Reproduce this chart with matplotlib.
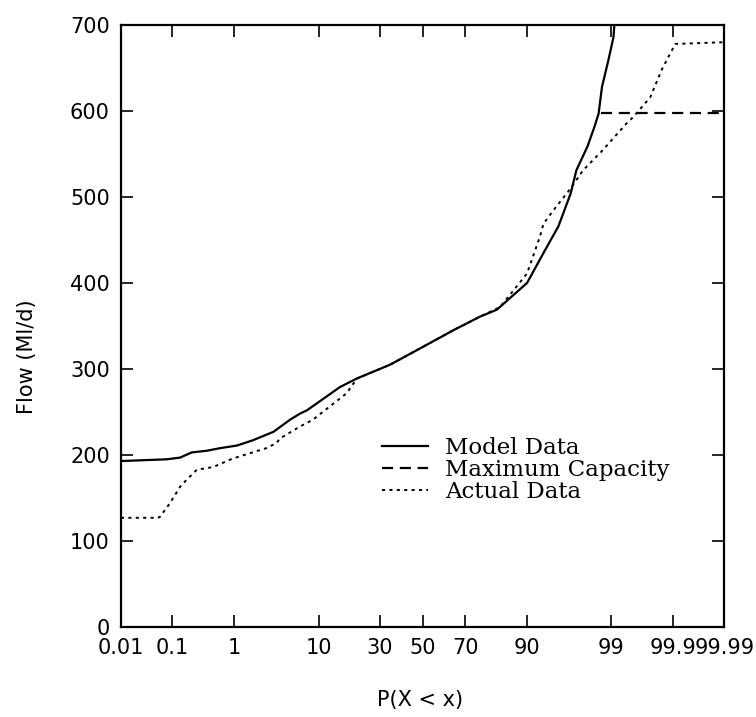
import numpy as np
import matplotlib
matplotlib.use('Agg')
import matplotlib.pyplot as plt
from statistics import NormalDist

# flow duration data, exceedance probability in percent
model_p = [0.01, 0.08, 0.14, 0.22, 0.39, 0.63, 1.1, 1.8, 3.3, 5.1, 6.5, 7.7,
           15.4, 20.9, 34.4, 48.8, 64.7, 76.1, 82.0, 90.1, 93.2, 95.3, 96.6,
           97.1, 97.9, 98.3, 98.5, 98.65, 98.9, 99.07, 99.1]
model_q = [193, 195, 197, 203, 205, 208, 211, 217, 227, 241, 248, 252,
           279, 289, 305, 324, 345, 361, 369, 400, 435, 466, 504,
           531, 559, 582, 597, 628, 659, 686, 702]

actual_p = [0.01, 0.055, 0.06, 0.092, 0.139, 0.18, 0.27, 0.49, 0.97, 2.7, 3.6,
            3.9, 6.5, 8.8, 17.5, 20.9, 34.4, 48.8, 64.7, 76.1, 83.0, 90.1,
            92.6, 93.2, 94.7, 96.6, 97.6, 98.7, 99.41, 99.53, 99.75, 99.84,
            99.908, 99.99]
actual_q = [127, 127, 128, 144, 163, 171, 183, 186, 196, 208, 214,
            219, 233, 241, 272, 289, 305, 324, 345, 361, 372, 411,
            454, 469, 485, 510, 531, 555, 586, 593, 616, 648,
            678, 680]

cap_p = [98.6, 99.99]
cap_q = [598, 598]

tick_p = [0.01, 0.1, 1, 10, 30, 50, 70, 90, 99, 99.9, 99.99]
tick_labels = ['0.01', '0.1', '1', '10', '30', '50', '70', '90', '99', '99.9', '99.99']

nd = NormalDist()


def probit(p):
    return np.array([nd.inv_cdf(v / 100.0) for v in p])


fig = plt.figure(figsize=(7.56, 7.17), dpi=100)
ax = fig.add_axes([0.160, 0.1255, 0.798, 0.8396])

ax.plot(probit(model_p), model_q, color='black', lw=1.6, label='Model Data')
ax.plot(probit(cap_p), cap_q, color='black', lw=1.6, dashes=(5, 3),
        label='Maximum Capacity')
ax.plot(probit(actual_p), actual_q, color='black', lw=1.4, dashes=(1.6, 2.2),
        label='Actual Data')

zlim = nd.inv_cdf(0.9999)
ax.set_xlim(-zlim, zlim)
ax.set_ylim(0, 700)

ax.set_xticks(probit(tick_p))
ax.set_xticklabels(tick_labels)
ax.set_yticks(np.arange(0, 701, 100))

ax.tick_params(direction='in', length=8.5, width=1.2, top=True, right=True,
               labelsize=15, pad=8)
for s in ax.spines.values():
    s.set_linewidth(1.6)

ax.set_ylabel('Flow (Ml/d)', fontsize=15)
ax.yaxis.set_label_coords(-0.139, 0.449)
ax.set_xlabel('P(X < x)', fontsize=15)
ax.xaxis.set_label_coords(0.496, -0.104)

leg = ax.legend(loc='center left', bbox_to_anchor=(0.433, 0.261), frameon=False,
                prop={'family': 'DejaVu Serif', 'size': 16.5},
                handlelength=2.0, handletextpad=0.75, labelspacing=0.0,
                borderpad=0, borderaxespad=0)

fig.savefig('out.png', dpi=100)
